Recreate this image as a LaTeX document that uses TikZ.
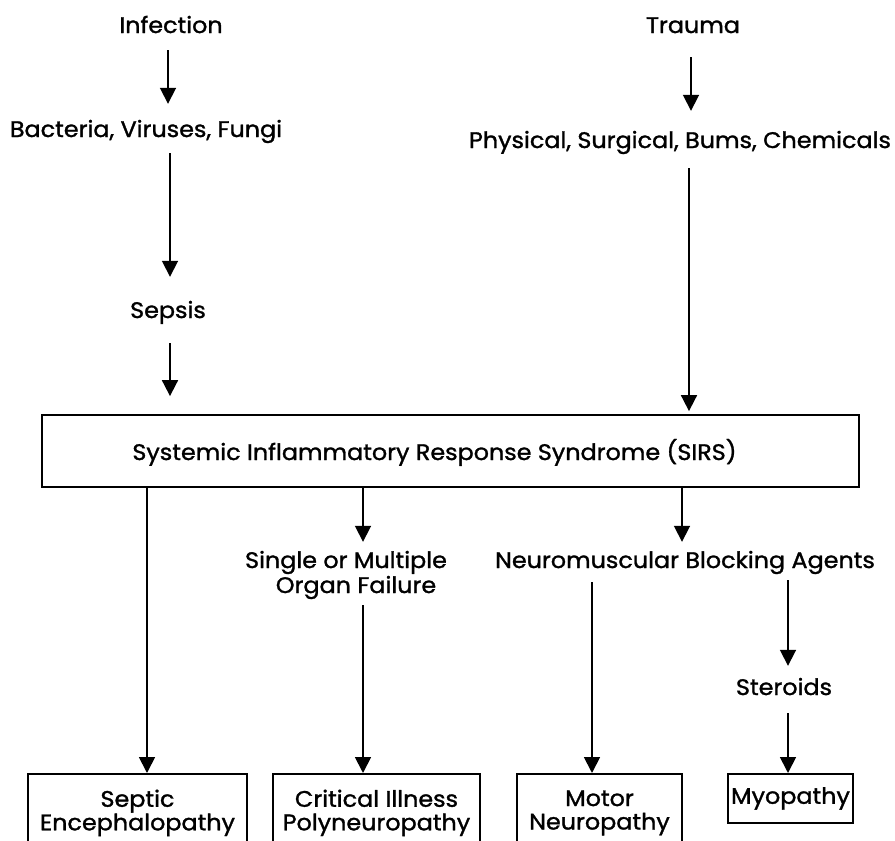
\documentclass[tikz,border=0pt]{standalone}
\usepackage{fontspec}
\setmainfont{Poppins}[FakeStretch=1.06, FakeBold=1.3]
\usetikzlibrary{arrows.meta}
\begin{document}
\begin{tikzpicture}[x=1pt,y=-1pt,
  txt/.style={font=\fontsize{22.5}{25}\selectfont},
  lbl/.style={txt, inner sep=0pt, text height=16pt, text depth=5pt, anchor=base},
  box/.style={font=\fontsize{22.5}{23.5}\selectfont, draw, line width=1.8pt, inner sep=0pt, align=center, anchor=north},
  arr/.style={line width=1.8pt, -{Triangle[length=16pt,width=16pt]}},
  ln/.style={line width=1.8pt}]
\useasboundingbox (0,0) rectangle (895,841);
\clip (0,0) rectangle (895,841);
% text labels
\node[lbl] (inf) at (171,33) {Infection};
\node[lbl] (bact) at (146,137) {Bacteria, Viruses, Fungi};
\node[lbl] (sepsis) at (168,318) {Sepsis};
\node[lbl] (trauma) at (693,33) {Trauma};
\node[lbl] (phys) at (680,148) {Physical, Surgical, Bums, Chemicals};
\node[txt, draw, line width=1.8pt, inner sep=0pt, minimum width=817pt, minimum height=72pt, text height=20pt, text depth=2pt] (sirs) at (450.5,451) {Systemic Inflammatory Response Syndrome (SIRS)\hspace*{32pt}};
\node[lbl] (sing1) at (346,568) {Single or Multiple};
\node[lbl] (sing2) at (356,593) {Organ Failure};
\node[lbl] (neuro) at (685,568) {Neuromuscular Blocking Agents};
\node[lbl] (ster) at (784,695) {Steroids};
% bottom boxes
\node[box, minimum width=219pt, minimum height=78pt] (sept) at (137.5,773) {Septic\\Encephalopathy};
\node[box, minimum width=207pt, minimum height=78pt] (crit) at (376.5,773) {Critical Illness\\Polyneuropathy};
\node[box, minimum width=165pt, minimum height=78pt] (motor) at (599.5,773) {Motor\\Neuropathy};
\node[box, minimum width=125pt, minimum height=49pt] (myo) at (790.5,773) {Myopathy};
% arrow columns
\coordinate (xa) at (168,0);
\coordinate (xb) at (170,0);
\coordinate (xc) at (691,0);
\coordinate (xd) at (689,0);
\coordinate (xe) at (147,0);
\coordinate (xf) at (363,0);
\coordinate (xg) at (682,0);
\coordinate (xh) at (592,0);
\coordinate (xi) at (788,0);
% connectors
\draw[arr, shorten <=12pt, shorten >=17pt] (inf.south -| xa) -- (bact.north -| xa);
\draw[arr, shorten <=11pt, shorten >=25pt] (bact.south -| xb) -- (sepsis.north -| xb);
\draw[arr, shorten <=20pt, shorten >=18pt] (sepsis.south -| xb) -- (sirs.north -| xb);
\draw[arr, shorten <=19pt, shorten >=21pt] (trauma.south -| xc) -- (phys.north -| xc);
\draw[arr, shorten <=15pt, shorten >=3pt] (phys.south -| xd) -- (sirs.north -| xd);
\draw[arr] (sirs.south -| xe) -- (sept.north -| xe);
\draw[arr, shorten >=10pt] (sirs.south -| xf) -- (sing1.north -| xf);
\draw[arr, shorten <=7pt] (sing2.south -| xf) -- (crit.north -| xf);
\draw[arr, shorten >=10pt] (sirs.south -| xg) -- (neuro.north -| xg);
\draw[arr, shorten <=9pt] (neuro.south -| xh) -- (motor.north -| xh);
\draw[arr, shorten <=7pt, shorten >=13pt] (neuro.south -| xi) -- (ster.north -| xi);
\draw[arr, shorten <=13pt] (ster.south -| xi) -- (myo.north -| xi);
\end{tikzpicture}
\end{document}
